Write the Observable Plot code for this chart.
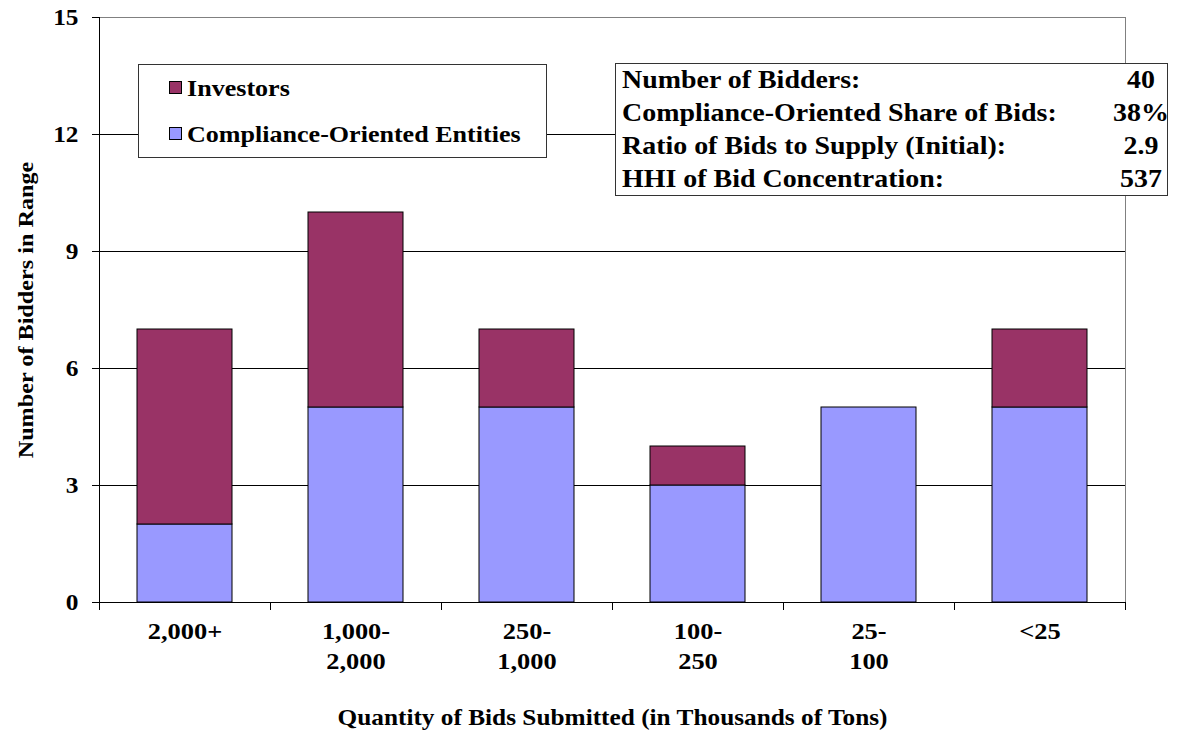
<!DOCTYPE html>
<html><head><meta charset="utf-8">
<script src="https://cdn.jsdelivr.net/npm/d3@7"></script>
<script src="https://cdn.jsdelivr.net/npm/@observablehq/plot@0.6"></script>
<style>
html,body{margin:0;padding:0;background:#fff;}
svg text{font-family:"Liberation Serif","Times New Roman",serif;font-weight:bold;}
g[aria-label="x-axis tick label"] text{font-size:24px;}
</style></head><body><div id="chart"></div>
<script>
// ---- data ----
const categories = ["2,000+", "1,000-\n2,000", "250-\n1,000", "100-\n250", "25-\n100", "<25"];
const compliance = [2, 5, 5, 3, 5, 5];
const investors  = [5, 5, 2, 1, 0, 2];
const seriesNames = ["Investors", "Compliance-Oriented Entities"];
const seriesColors = ["#993366", "#9999FF"];
const yTicks = [0, 3, 6, 9, 12, 15];
const gridValues = [3, 6, 9, 12];
const statLabels = ["Number of Bidders:", "Compliance-Oriented Share of Bids:", "Ratio of Bids to Supply (Initial):", "HHI of Bid Concentration:"];
const statValues = ["40", "38%", "2.9", "537"];
const xTitle = "Quantity of Bids Submitted (in Thousands of Tons)";
const yTitle = "Number of Bidders in Range";

const rows = [];
categories.forEach((c, i) => {
  rows.push({category: c, series: seriesNames[1], value: compliance[i]});
  rows.push({category: c, series: seriesNames[0], value: investors[i]});
});
const barRows = rows.filter(d => d.value > 0);

const W = 1186, H = 734;
const ml = 99, mr = 61, mt = 17, mb = 132;
const FONT = '"Liberation Serif","Times New Roman",serif';

function annotations(index, scales, values, dim) {
  const g = d3.create("svg:g");
  const x = scales.x, y = scales.y;
  const step = typeof x.step === "function" ? x.step() : (dim.width - dim.marginLeft - dim.marginRight) / categories.length;
  const bw = typeof x.bandwidth === "function" ? x.bandwidth() : step * 0.556;
  const y0 = dim.height - dim.marginBottom;
  // axis lines
  g.append("line").attr("x1", dim.marginLeft + 0.5).attr("x2", dim.marginLeft + 0.5)
    .attr("y1", dim.marginTop).attr("y2", y0 + 0.5).attr("stroke", "#000");
  g.append("line").attr("x1", dim.marginLeft).attr("x2", dim.width - dim.marginRight)
    .attr("y1", y0 + 0.5).attr("y2", y0 + 0.5).attr("stroke", "#000");
  // y ticks
  yTicks.forEach(v => {
    const py = Math.round(y(v)) + 0.5;
    g.append("line").attr("x1", dim.marginLeft - 7).attr("x2", dim.marginLeft + 1)
      .attr("y1", py).attr("y2", py).attr("stroke", "#000");
  });
  // category boundary ticks
  const bounds = categories.map(c => x(c) - (step - bw) / 2);
  bounds.push(x(categories[categories.length - 1]) + bw + (step - bw) / 2);
  bounds.forEach(b => {
    g.append("line").attr("x1", Math.round(b) + 0.5).attr("x2", Math.round(b) + 0.5)
      .attr("y1", y0).attr("y2", y0 + 8).attr("stroke", "#000");
  });
  // legend
  const lg = g.append("g").attr("text-anchor", "start");
  lg.append("rect").attr("x", 138.5).attr("y", 64.5).attr("width", 408).attr("height", 93)
    .attr("fill", "#fff").attr("stroke", "#333");
  const legendY = [88, 134];
  seriesNames.forEach((n, i) => {
    lg.append("rect").attr("x", 169.5).attr("y", legendY[i] - 6.5).attr("width", 12).attr("height", 12)
      .attr("fill", seriesColors[i]).attr("stroke", "#000");
    lg.append("text").attr("x", 187).attr("y", legendY[i]).attr("dy", "0.32em").attr("text-anchor", "start")
      .attr("font-size", 23.7).attr("font-family", FONT).attr("font-weight", "bold").text(n);
  });
  // statistics table
  const tg = g.append("g");
  tg.append("rect").attr("x", 615.5).attr("y", 63.5).attr("width", 552).attr("height", 132)
    .attr("fill", "#fff").attr("stroke", "#333");
  const rowY = [80, 113, 146, 179];
  statLabels.forEach((s, i) => {
    tg.append("text").attr("x", 622).attr("y", rowY[i]).attr("dy", "0.32em").attr("text-anchor", "start")
      .attr("font-size", 25.4).attr("font-family", FONT).attr("font-weight", "bold").text(s);
    tg.append("text").attr("x", 1141).attr("y", rowY[i]).attr("dy", "0.32em").attr("text-anchor", "middle")
      .attr("font-size", 25.4).attr("font-family", FONT).attr("font-weight", "bold").text(statValues[i]);
  });
  return g.node();
}

const chart = Plot.plot({
  width: W, height: H,
  marginLeft: ml, marginRight: mr, marginTop: mt, marginBottom: mb,
  style: {fontFamily: FONT, fontWeight: "bold", fontSize: "21px", color: "#000", background: "#fff", overflow: "visible"},
  x: {domain: categories, paddingInner: 0.444, paddingOuter: 0.222, label: null},
  y: {domain: [0, 15], label: null, axis: null},
  color: {domain: seriesNames, range: seriesColors},
  marks: [
    Plot.frame({stroke: "#808080"}),
    Plot.ruleY(gridValues, {stroke: "#000", strokeWidth: 1}),
    Plot.barY(barRows, Plot.stackY({x: "category", y: "value", fill: "series", stroke: "#000", strokeWidth: 1})),
    Plot.text(yTicks, {y: d => d, text: d => String(d), frameAnchor: "left", dx: -21, textAnchor: "end", fontSize: 23, fontWeight: "bold"}),
    Plot.axisX({tickSize: 0, tickPadding: 16, lineHeight: 1.22, fontSize: 24, label: null}),
    annotations,
    Plot.text([xTitle], {text: d => d, frameAnchor: "bottom", dy: 122, fontSize: 23, fontWeight: "bold", textAnchor: "middle"}),
    Plot.text([yTitle], {text: d => d, frameAnchor: "left", rotate: -90, dx: -74, fontSize: 22, fontWeight: "bold", textAnchor: "middle"})
  ]
});
document.getElementById("chart").appendChild(chart);

// widen glyphs slightly, as in the original rendering
function stretchText(svg, s) {
  svg.querySelectorAll("text").forEach(t => {
    const spans = t.querySelectorAll("tspan");
    const targets = spans.length ? Array.from(spans) : [t];
    targets.forEach(el => {
      const len = el.getComputedTextLength();
      if (len > 0) {
        el.setAttribute("textLength", (len * s).toFixed(1));
        el.setAttribute("lengthAdjust", "spacingAndGlyphs");
      }
    });
  });
}
stretchText(chart, 1.1);
</script></body></html>
